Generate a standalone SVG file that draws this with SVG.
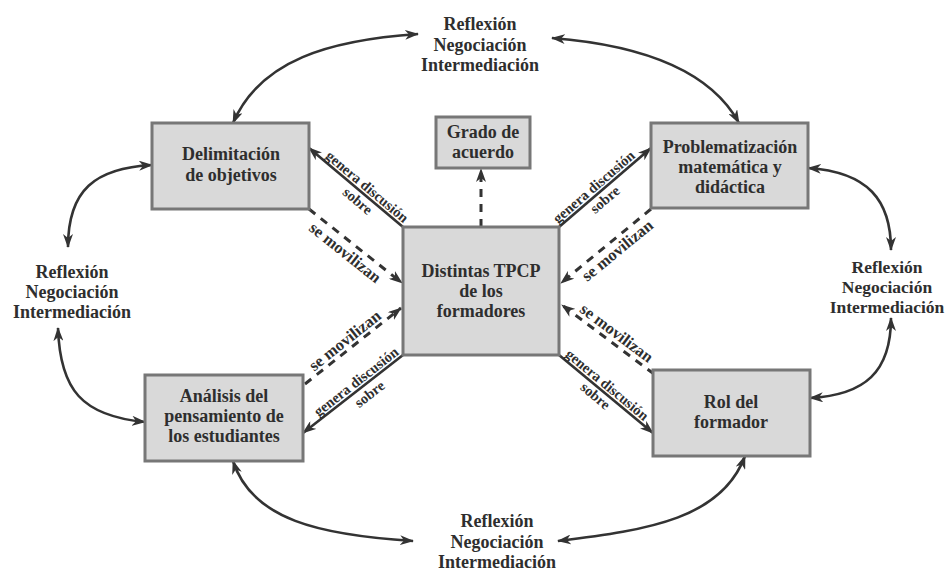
<svg xmlns="http://www.w3.org/2000/svg" width="950" height="572" viewBox="0 0 950 572">
<defs>
<style>
.box{fill:#d9d9d9;stroke:#777;stroke-width:3}
.t{font-family:"Liberation Serif","Times New Roman",serif;font-weight:bold;font-size:18px;fill:#2e2e2e;text-anchor:middle}
.r{font-size:17.5px}
.s{font-family:"Liberation Serif","Times New Roman",serif;font-weight:bold;font-size:14.5px;fill:#2e2e2e;text-anchor:middle}
.m{font-family:"Liberation Serif","Times New Roman",serif;font-weight:bold;font-size:16.5px;fill:#2e2e2e;text-anchor:middle}
.c{fill:none;stroke:#333;stroke-width:2.6}
.d{fill:none;stroke:#333;stroke-width:3;stroke-dasharray:8 7}
</style>
<marker id="ah" viewBox="0 0 14 10" refX="13" refY="5" markerWidth="14" markerHeight="10" markerUnits="userSpaceOnUse" orient="auto-start-reverse">
<path d="M0,0 L14,5 L0,10 L4,5 z" fill="#333"/>
</marker>
</defs>
<rect width="950" height="572" fill="#fff"/>

<g id="connectors">
<path class="c" d="M233,123 C260,60 330,40 418,34" marker-start="url(#ah)" marker-end="url(#ah)"/>
<path class="c" d="M552,38 C640,45 710,70 739,123" marker-start="url(#ah)" marker-end="url(#ah)"/>
<path class="c" d="M152,165 C95,168 68,190 68,247" marker-start="url(#ah)" marker-end="url(#ah)"/>
<path class="c" d="M58,328 C60,390 82,416 145,422" marker-start="url(#ah)" marker-end="url(#ah)"/>
<path class="c" d="M808,168 C868,172 891,200 891,250" marker-start="url(#ah)" marker-end="url(#ah)"/>
<path class="c" d="M891,318 C891,372 865,395 810,398" marker-start="url(#ah)" marker-end="url(#ah)"/>
<path class="c" d="M233,461 C252,520 320,535 413,541" marker-start="url(#ah)" marker-end="url(#ah)"/>
<path class="c" d="M558,541 C650,530 722,518 745,456" marker-start="url(#ah)" marker-end="url(#ah)"/>

<path class="c" d="M403,227 L309,148" marker-end="url(#ah)"/>
<path class="c" d="M559,227 L651,148" marker-end="url(#ah)"/>
<path class="c" d="M403,355 L303,433" marker-end="url(#ah)"/>
<path class="c" d="M559,355 L653,433" marker-end="url(#ah)"/>

<path class="d" d="M309,209 L402,283" marker-end="url(#ah)"/>
<path class="d" d="M305,384 L401,308" marker-end="url(#ah)"/>
<path class="d" d="M651,209 L561,283" marker-end="url(#ah)"/>
<path class="d" d="M654,374 L562,305" marker-end="url(#ah)"/>
<path class="d" d="M481,227 L481,169" marker-end="url(#ah)"/>

<g transform="translate(356,187.5) rotate(40)">
<text class="s" x="8" y="-3">genera discusión</text>
<text class="s" x="10" y="14">sobre</text>
</g>
<g transform="translate(605,187.5) rotate(-40.65)">
<text class="s" x="-8" y="-3">genera discusión</text>
<text class="s" x="-8" y="14">sobre</text>
</g>
<g transform="translate(353,394) rotate(-38)">
<text class="s" x="10" y="-3">genera discusión</text>
<text class="s" x="13" y="15">sobre</text>
</g>
<g transform="translate(606,394) rotate(39.7)">
<text class="s" x="-5" y="-3">genera discusión</text>
<text class="s" x="-7" y="13">sobre</text>
</g>

<g transform="translate(355.5,246) rotate(38.5)">
<text class="m" x="-4" y="17">se movilizan</text>
</g>
<g transform="translate(353,346) rotate(-38.4)">
<text class="m" x="-3" y="-4">se movilizan</text>
</g>
<g transform="translate(606,246) rotate(-39.4)">
<text class="m" x="6" y="16">se movilizan</text>
</g>
<g transform="translate(608,339.5) rotate(36.9)">
<text class="m" x="3" y="-5">se movilizan</text>
</g>
</g>

<g id="rni-top">
<text class="t" x="480" y="30">Reflexión</text>
<text class="t" x="480" y="51">Negociación</text>
<text class="t" x="480" y="71">Intermediación</text>
</g>
<g id="rni-left">
<text class="t" x="72" y="278">Reflexión</text>
<text class="t" x="72" y="298">Negociación</text>
<text class="t" x="72" y="318">Intermediación</text>
</g>
<g id="rni-right">
<text class="t r" x="887" y="273">Reflexión</text>
<text class="t r" x="887" y="293">Negociación</text>
<text class="t r" x="887" y="313">Intermediación</text>
</g>
<g id="rni-bottom">
<text class="t" x="497" y="527">Reflexión</text>
<text class="t" x="497" y="548">Negociación</text>
<text class="t" x="497" y="568">Intermediación</text>
</g>

<g id="delimitacion">
<rect class="box" x="152" y="123" width="157" height="86"/>
<text class="t" x="231" y="160">Delimitación</text>
<text class="t" x="231" y="181">de objetivos</text>
</g>
<g id="grado">
<rect class="box" x="436" y="117" width="94" height="51"/>
<text class="t" x="483" y="138">Grado de</text>
<text class="t" x="483" y="158">acuerdo</text>
</g>
<g id="problematizacion">
<rect class="box" x="651" y="123" width="157" height="85"/>
<text class="t" x="730" y="153">Problematización</text>
<text class="t" x="730" y="173">matemática y</text>
<text class="t" x="730" y="193">didáctica</text>
</g>
<g id="tpcp">
<rect class="box" x="403" y="227" width="156" height="128"/>
<text class="t" x="481" y="277">Distintas TPCP</text>
<text class="t" x="481" y="297">de los</text>
<text class="t" x="481" y="317">formadores</text>
</g>
<g id="analisis">
<rect class="box" x="145" y="375" width="158" height="86"/>
<text class="t" x="224" y="402">Análisis del</text>
<text class="t" x="224" y="422">pensamiento de</text>
<text class="t" x="224" y="442">los estudiantes</text>
</g>
<g id="rol">
<rect class="box" x="653" y="370" width="157" height="86"/>
<text class="t" x="731" y="408">Rol del</text>
<text class="t" x="731" y="428">formador</text>
</g>
</svg>
